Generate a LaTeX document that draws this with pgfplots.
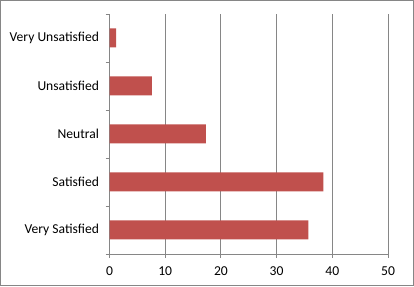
\documentclass[border=0pt]{standalone}
\usepackage{pgfplots}
\pgfplotsset{compat=1.18}
\usepackage{fontspec}
\setmainfont{Carlito}
\definecolor{barred}{HTML}{C0504D}
\definecolor{axgray}{HTML}{868686}
\begin{document}
\begin{tikzpicture}[x=1pt,y=1pt]
\path[use as bounding box] (0,0) rectangle (414,286);
\draw[axgray, line width=1pt] (0.5,0.5) rectangle (413.5,285.5);
\begin{axis}[
  at={(109.5pt,32pt)}, anchor=south west,
  scale only axis, width=278.5pt, height=240pt,
  xmin=0, xmax=50, ymin=-0.5, ymax=4.5,
  xbar, bar width=19pt,
  axis x line*=bottom, axis y line*=left,
  xtick={0,10,20,30,40,50},
  xticklabels={0,10,20,30,40,50},
  xmajorgrids,
  grid style={axgray, line width=0.9pt},
  ytick={0,1,2,3,4},
  yticklabels={Very Satisfied,Satisfied,Neutral,Unsatisfied,Very Unsatisfied},
  minor ytick={-0.5,0.5,1.5,2.5,3.5,4.5},
  major y tick style={draw=none},
  tick align=outside,
  major tick length=4pt, minor tick length=4pt,
  axis line style={axgray, line width=0.9pt},
  every tick/.style={axgray, line width=0.9pt},
  tick label style={font=\fontsize{13.6}{16}\selectfont, text=black},
  yticklabel style={xshift=-3pt},
  xticklabel style={yshift=-5pt},
]
\addplot[fill=barred, draw=none] coordinates {
  (35.7,0) (38.4,1) (17.3,2) (7.6,3) (1.2,4)
};
\end{axis}
\end{tikzpicture}
\end{document}
